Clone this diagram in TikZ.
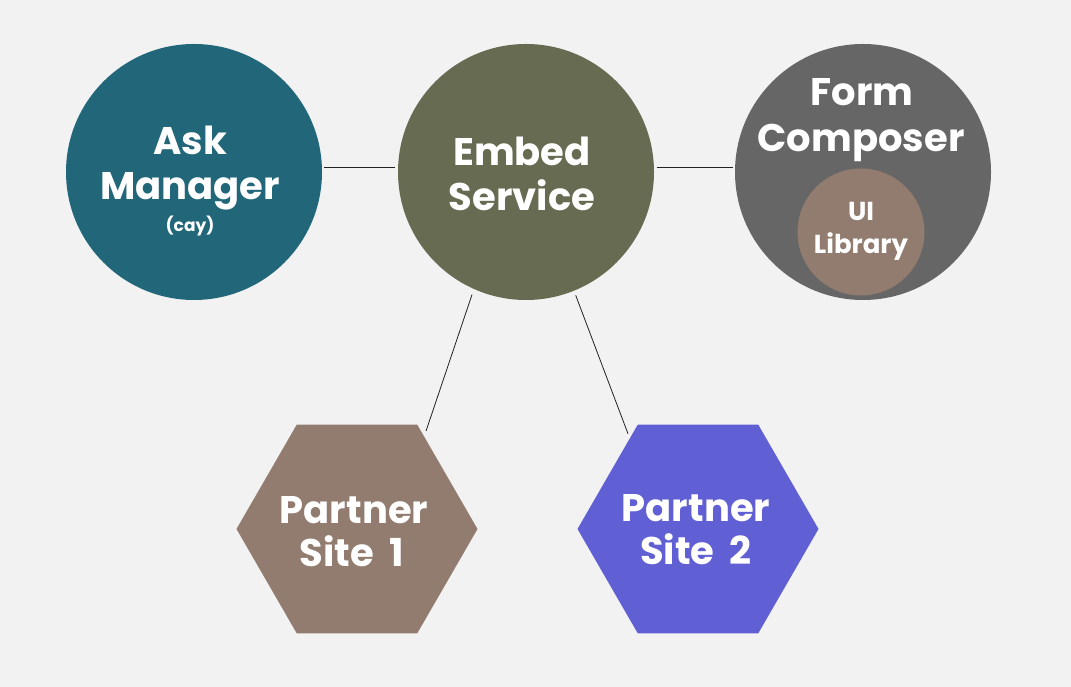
\documentclass[tikz,border=0pt]{standalone}
\usepackage{fontspec}
\setmainfont{Poppins}
\usetikzlibrary{shapes.geometric}
\definecolor{bgc}{HTML}{F2F2F2}
\definecolor{askc}{HTML}{226779}
\definecolor{embedc}{HTML}{676B52}
\definecolor{formc}{HTML}{666666}
\definecolor{brownc}{HTML}{917C6F}
\definecolor{bluec}{HTML}{6060D4}
\definecolor{linec}{HTML}{222222}
\tikzset{
  bubble/.style={circle, draw=none, inner sep=0pt, outer sep=0pt, minimum size=256pt},
  hexa/.style={regular polygon, regular polygon sides=6, draw=none, inner sep=0pt, outer sep=0pt, minimum size=241pt},
  big/.style={anchor=base, text=white, font=\bfseries\fontsize{38.5}{44}\selectfont, inner sep=0pt},
  mid/.style={anchor=base, text=white, font=\bfseries\fontsize{26}{30}\selectfont, inner sep=0pt},
  small/.style={anchor=base, text=white, font=\bfseries\fontsize{17}{20}\selectfont, inner sep=0pt},
  conn/.style={draw=linec, line width=0.8pt}
}
\begin{document}
\begin{tikzpicture}[x=1pt,y=1pt]
\fill[bgc] (0,0) rectangle (1071,687);
\useasboundingbox (0,0) rectangle (1071,687);
% shapes
\node[bubble, fill=askc] (ask) at (194,515) {};
\node[bubble, fill=embedc] (embed) at (526,515) {};
\node[bubble, fill=formc] (form) at (863,515) {};
\node[circle, fill=brownc, inner sep=0pt, outer sep=0pt, minimum size=127pt] (ui) at (861,455) {};
\node[hexa, fill=brownc] (hex1) at (357,158) {};
\node[hexa, fill=bluec] (hex2) at (698,158) {};
% connectors
\draw[conn, shorten <=2pt, shorten >=3pt] (ask.2) -- (embed.178);
\draw[conn, shorten <=3pt, shorten >=2pt] (embed.2) -- (form.178);
\draw[conn, shorten <=6pt, shorten >=6pt] (embed.246.7) -- (hex1.54.7);
\draw[conn, shorten <=5pt, shorten >=5pt] (embed.292.5) -- (hex2.127);
% texts
\node[big] (askA) at (190,532) {Ask};
\node[big] (askB) at (190,487) {Manager};
\node[small] (askC) at (190,455) {(cay)};
\node[big] (embA) at (522,521) {Embed};
\node[big] (embB) at (522,476) {Service};
\node[big] (formA) at (862,581) {Form};
\node[big] (formB) at (861,535) {Composer};
\node[mid] (uiA) at (861,466) {UI};
\node[mid] (uiB) at (861,433) {Library};
\node[big] (p1A) at (354,163) {Partner};
\node[big] (p1B) at (352,120) {Site\hspace{0.4em}1};
\node[big] (p2A) at (696,165) {Partner};
\node[big] (p2B) at (696,122) {Site\hspace{0.4em}2};
\end{tikzpicture}
\end{document}
